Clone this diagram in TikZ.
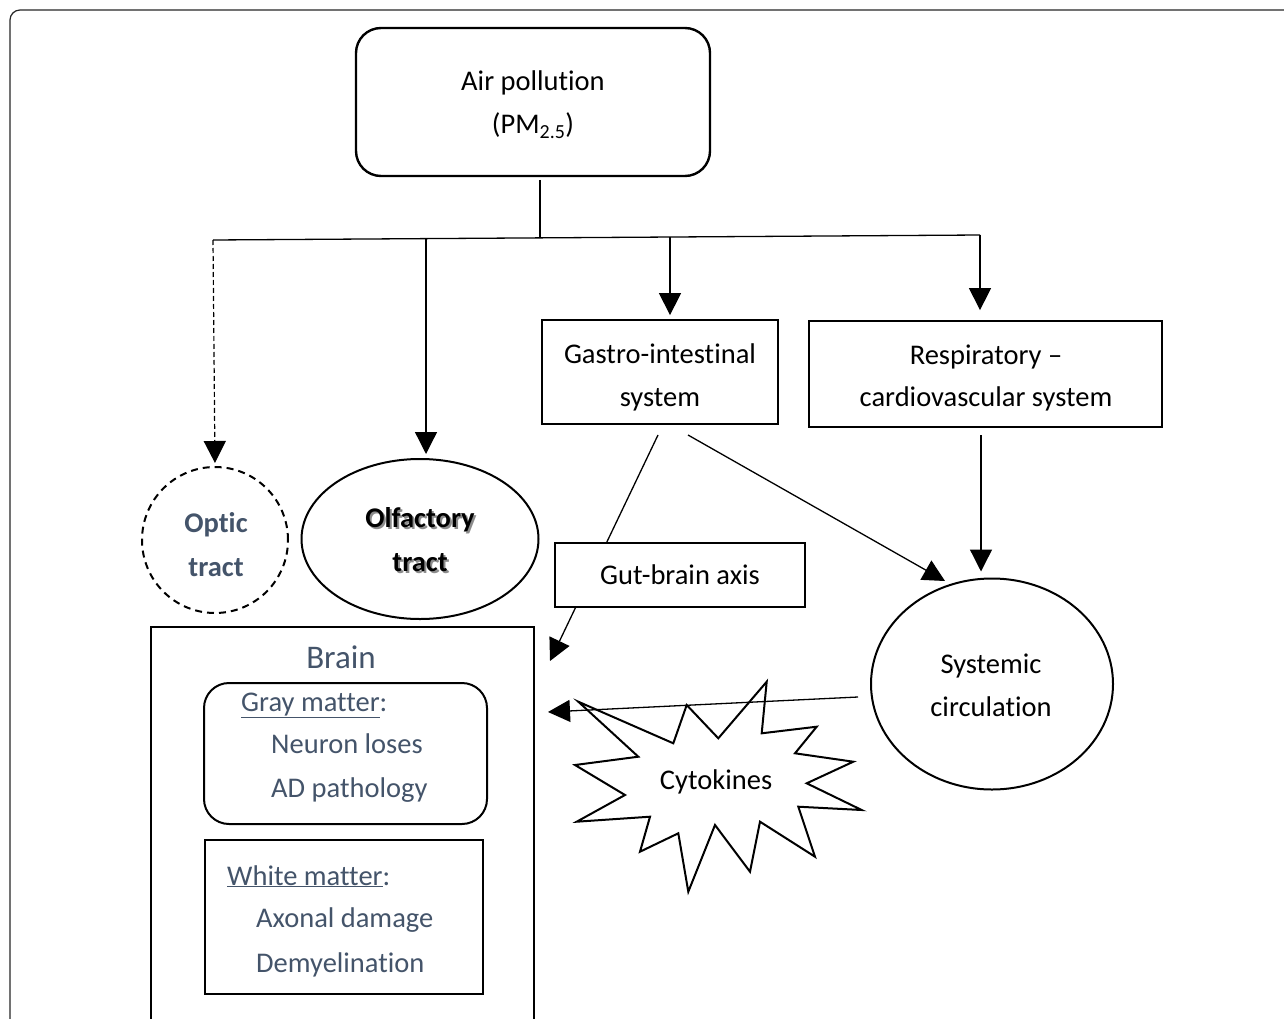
\documentclass[tikz,border=0pt]{standalone}
\usepackage{fontspec}
\setmainfont[Ligatures=NoCommon]{Carlito}
\usetikzlibrary{arrows.meta,shapes.geometric}
\definecolor{slate}{HTML}{44546A}
\begin{document}
\begin{tikzpicture}[x=1pt,y=-1pt,
  txt/.style={font=\fontsize{28.5}{43}\selectfont, inner sep=0pt, anchor=base},
  ltxt/.style={txt, text=slate, anchor=base west},
  box/.style={draw, line width=1.8pt, inner sep=0pt, fill=white},
  conn/.style={line width=1.3pt},
  arr/.style={conn, -{Triangle[width=22pt,length=22pt]}},
]
\useasboundingbox (0,0) rectangle (1284,1019);
\clip (0,0) rectangle (1284,1019);
\draw[line width=1.2pt, rounded corners=10pt, black!85] (10,10) rectangle (1330,1070);

% Air pollution
\node[box, rounded corners=25pt, minimum width=354pt, minimum height=148pt, line width=2.4pt] (air) at (533,102) {};
\node[txt] (airt1) at (533,91) {Air pollution};
\node[txt] (airt2) at (533,134) {(PM\textsubscript{2.5})};

% distribution line
\coordinate (airb) at (540,180);
\coordinate (jc) at (540,237);
\coordinate (jl) at (213,240);
\coordinate (jr) at (980,235);
\coordinate (jo) at (426,238.6);
\coordinate (jg) at (670,237);
\draw[conn] (airb) -- (jc);
\draw[conn] (jl) -- (jr);

% Optic tract
\node[draw, circle, minimum size=146pt, line width=2pt, dash pattern=on 7pt off 5pt] (optic) at (215,540) {};
\node[txt, text=slate, font=\fontsize{28.5}{43}\bfseries] (optic1) at (216,532) {Optic};
\node[txt, text=slate, font=\fontsize{28.5}{43}\bfseries] (optic2) at (216,576) {tract};
\draw[arr, dash pattern=on 5pt off 3pt, line width=1.2pt] (jl) -- (optic.north) [shorten >=3pt];

% Olfactory tract
\node[draw, ellipse, minimum width=237pt, minimum height=160pt, line width=2pt] (olf) at (420,539) {};
\node[txt, text=black!45, font=\fontsize{28.5}{43}\bfseries] (olfs1) at (422,529) {Olfactory};
\node[txt, text=black!45, font=\fontsize{28.5}{43}\bfseries] (olfs2) at (422,573) {tract};
\node[txt, font=\fontsize{28.5}{43}\bfseries] (olf1) at (420,527) {Olfactory};
\node[txt, font=\fontsize{28.5}{43}\bfseries] (olf2) at (420,571) {tract};
\draw[arr] (jo) -- (jo |- olf.north) [shorten >=4pt];

% Gastro-intestinal
\node[box, minimum width=236pt, minimum height=104pt] (gi) at (660,372) {};
\node[txt] (gi1) at (660,363) {Gastro-intestinal};
\node[txt] (gi2) at (660,406) {system};
\draw[arr] (jg) -- (jg |- gi.north) [shorten >=4pt];

% Respiratory
\node[box, minimum width=353pt, minimum height=106pt] (resp) at (985.5,374) {};
\node[txt] (resp1) at (986,364) {Respiratory \textendash};
\node[txt] (resp2) at (986,406) {cardiovascular system};
\draw[arr] (jr) -- (jr |- resp.north) [shorten >=10pt];

% Systemic circulation
\node[draw, ellipse, minimum width=242pt, minimum height=211pt, line width=2pt] (sys) at (992,684) {};
\node[txt] (sys1) at (991,673) {Systemic};
\node[txt] (sys2) at (991,716) {circulation};
\coordinate (rs) at (981,435);
\draw[arr] (rs) -- (rs |- sys.north) [shorten >=6pt];
\coordinate (gd) at (688,435);
\coordinate (sysin) at (945,581);
\draw[arr] (gd) -- (sysin);

% Brain
\node[box, minimum width=383pt, minimum height=440pt, anchor=north west] (brain) at (150,626) {};
\node[txt, text=slate, font=\fontsize{33}{40}\selectfont] (braint) at (341,668) {Brain};
\node[box, rounded corners=25pt, minimum width=283pt, minimum height=141pt, line width=2pt] (gray) at (345.5,753.5) {};
\node[ltxt] (gray1) at (241,711) {\underline{Gray matter}:};
\node[ltxt] (gray2) at (271,753) {Neuron loses};
\node[ltxt] (gray3) at (271,797) {AD pathology};
\node[box, minimum width=278pt, minimum height=154pt, line width=2pt] (white) at (344,917) {};
\node[ltxt] (white1) at (227,885) {\underline{White matter}:};
\node[ltxt] (white2) at (256,927) {Axonal damage};
\node[ltxt] (white3) at (256,972) {Demyelination};

% Gut-brain axis
\coordinate (gb) at (658,435);
\coordinate (brainin1) at (550,661);
\draw[arr] (gb) -- (brainin1);
\node[box, minimum width=250pt, minimum height=64pt] (gut) at (680,575) {};
\node[txt] (gut1) at (680,584) {Gut-brain axis};

% Cytokines star
\draw[line width=2pt, fill=white, line join=miter]
  (766.7,681.7) -- (761.7,733.3) -- (816.7,726.7) -- (795,753.3) -- (853.3,761.7)
  -- (806.7,783.3) -- (861.7,810) -- (798.3,806.7) -- (815,856.7) -- (760,821.7)
  -- (750,871.7) -- (715,825) -- (688.3,891.7) -- (678.3,833.3) -- (640,851.7)
  -- (650,816.7) -- (576.7,821.7) -- (625,795) -- (575,765) -- (638.3,756.7)
  -- (578.3,701.7) -- (673.3,743.3) -- (686.7,705) -- (718.3,738.3) -- cycle;
\node[txt] (cyto) at (716,789) {Cytokines};
\coordinate (sysw) at (858,697);
\coordinate (brainin2) at (548,712);
\draw[arr] (sysw) -- (brainin2);
\end{tikzpicture}
\end{document}
